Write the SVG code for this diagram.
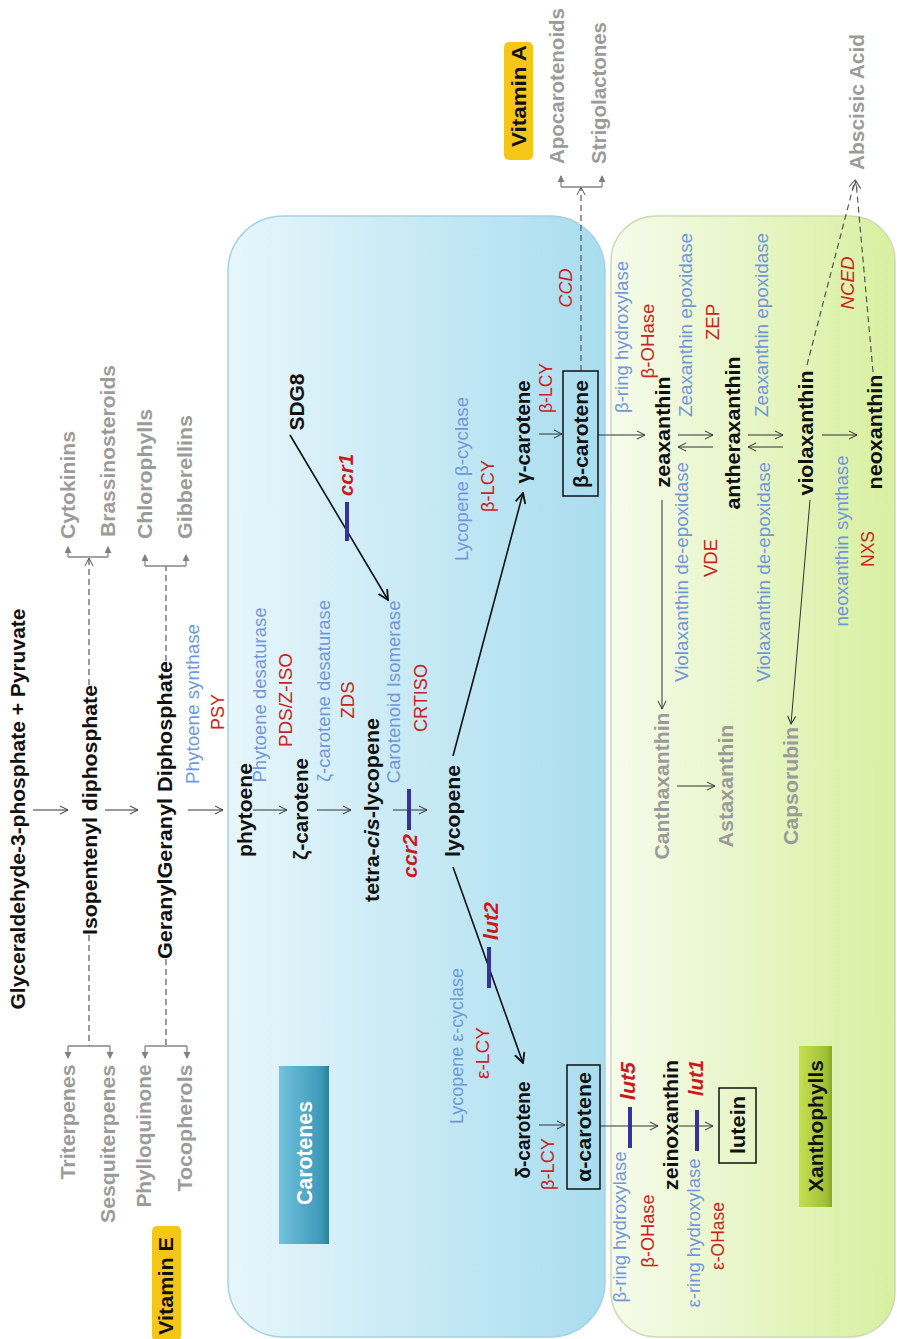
<svg xmlns="http://www.w3.org/2000/svg" width="897" height="1339" viewBox="0 0 897 1339">
<defs>
<linearGradient id="gBlue" x1="0" y1="0" x2="1" y2="0"><stop offset="0" stop-color="#e7f6fb"/><stop offset="1" stop-color="#a9ddef"/></linearGradient>
<linearGradient id="gGreen" x1="0" y1="0" x2="1" y2="0"><stop offset="0" stop-color="#f6fbeb"/><stop offset="1" stop-color="#d8f0a0"/></linearGradient>
<linearGradient id="gCar" x1="0" y1="0" x2="1" y2="0"><stop offset="0" stop-color="#72c3df"/><stop offset="0.85" stop-color="#3d98b8"/><stop offset="1" stop-color="#2d7f9c"/></linearGradient>
<linearGradient id="gXan" x1="0" y1="0" x2="1" y2="0"><stop offset="0" stop-color="#c6df52"/><stop offset="0.85" stop-color="#9fbf32"/><stop offset="1" stop-color="#86a626"/></linearGradient>
<marker id="ah" markerWidth="10" markerHeight="10" refX="9" refY="5" orient="auto" markerUnits="userSpaceOnUse"><path d="M1,1 L9,5 L1,9" fill="none" stroke="#333" stroke-width="1"/></marker>
<marker id="ahb" markerWidth="12" markerHeight="12" refX="11" refY="6" orient="auto" markerUnits="userSpaceOnUse"><path d="M1,1 L11,6 L1,11" fill="none" stroke="#111" stroke-width="1.8"/></marker>
<marker id="ahd" markerWidth="10" markerHeight="10" refX="9" refY="5" orient="auto" markerUnits="userSpaceOnUse"><path d="M1,1 L9,5 L1,9" fill="none" stroke="#555" stroke-width="1"/></marker>
<marker id="fa" markerWidth="8" markerHeight="8" refX="6" refY="3.5" orient="auto" markerUnits="userSpaceOnUse"><path d="M0,0 L7,3.5 L0,7 z" fill="#808080"/></marker>
</defs>
<style>
text{font-family:"Liberation Sans",Arial,sans-serif;text-anchor:middle}
.n{font-weight:bold;font-size:21px;fill:#111}
.g{font-weight:bold;font-size:21px;fill:#9b9b9b}
.e{font-size:18px;fill:#6f98dc}
.r{font-size:19px;fill:#cc2222}
.ri{font-size:19px;fill:#cc2222;font-style:italic}
.m{font-size:20px;fill:#cc1a1a;font-weight:bold;font-style:italic}
.ln{stroke:#333;stroke-width:1;fill:none}
.lb{stroke:#111;stroke-width:1.6;fill:none}
.dash{stroke:#555;stroke-width:1.2;stroke-dasharray:6 4;fill:none}
.fork{stroke:#858585;stroke-width:1.3;fill:none}
.bar{stroke:#333399;stroke-width:4}
.box{fill:none;stroke:#111;stroke-width:1.5}
</style>

<g id="panels">
<rect id="carotene-panel" x="228" y="216" width="377" height="1121" rx="55" fill="url(#gBlue)" stroke="#a3d2e3" stroke-width="1.5"/>
<rect id="xanthophyll-panel" x="611" y="216" width="284" height="1121" rx="45" fill="url(#gGreen)" stroke="#cfdab4" stroke-width="1.5"/>
</g>

<g id="connectors">
<line class="ln" x1="33" y1="810" x2="68" y2="810" marker-end="url(#ah)"/>
<line class="ln" x1="105" y1="810" x2="138" y2="810" marker-end="url(#ah)"/>
<line class="ln" x1="188" y1="810" x2="223" y2="810" marker-end="url(#ah)"/>
<line class="ln" x1="253" y1="810" x2="287" y2="810" marker-end="url(#ah)"/>
<line class="ln" x1="317" y1="810" x2="351" y2="810" marker-end="url(#ah)"/>
<line class="ln" x1="393" y1="810" x2="427" y2="810" marker-end="url(#ah)"/>
<line class="lb" x1="453" y1="756" x2="523" y2="493" marker-end="url(#ahb)"/>
<line class="lb" x1="453" y1="867" x2="523" y2="1063" marker-end="url(#ahb)"/>
<line class="lb" x1="290" y1="435" x2="388" y2="600" stroke-width="2" marker-end="url(#ahb)"/>
<line class="ln" x1="539" y1="434" x2="562" y2="434" marker-end="url(#ah)"/>
<line class="ln" x1="598" y1="435" x2="645" y2="435" marker-end="url(#ah)"/>
<line class="ln" x1="678" y1="435" x2="713" y2="435" marker-end="url(#ah)"/>
<line class="ln" x1="713" y1="447" x2="678" y2="447" marker-end="url(#ah)"/>
<line class="ln" x1="748" y1="435" x2="783" y2="435" marker-end="url(#ah)"/>
<line class="ln" x1="783" y1="447" x2="748" y2="447" marker-end="url(#ah)"/>
<line class="ln" x1="822" y1="435" x2="857" y2="435" marker-end="url(#ah)"/>
<line class="ln" x1="662" y1="500" x2="662" y2="709" marker-end="url(#ah)"/>
<line class="ln" x1="810" y1="500" x2="791" y2="724" marker-end="url(#ah)"/>
<line class="ln" x1="677" y1="786" x2="715" y2="786" marker-end="url(#ah)"/>
<line class="ln" x1="539" y1="1125" x2="565" y2="1125" marker-end="url(#ah)"/>
<line class="ln" x1="600" y1="1126" x2="658" y2="1126" marker-end="url(#ah)"/>
<line class="ln" x1="679" y1="1126" x2="713" y2="1126" marker-end="url(#ah)"/>
<line class="dash" x1="89" y1="685" x2="89" y2="558" marker-end="url(#ahd)"/>
<line class="dash" x1="89" y1="935" x2="89" y2="1046"/>
<line class="dash" x1="166" y1="661" x2="166" y2="566"/>
<line class="dash" x1="166" y1="959" x2="166" y2="1046"/>
<line class="dash" x1="581" y1="371" x2="581" y2="187" marker-end="url(#ahd)"/>
<line class="dash" x1="807" y1="365" x2="855" y2="180" marker-end="url(#ahd)"/>
<line class="dash" x1="873" y1="372" x2="856" y2="181" marker-end="url(#ahd)"/>
<path class="fork" d="M68,557 H108"/><line class="fork" x1="68" y1="557" x2="68" y2="547" marker-end="url(#fa)"/><line class="fork" x1="108" y1="557" x2="108" y2="547" marker-end="url(#fa)"/>
<path class="fork" d="M145,566 H186"/><line class="fork" x1="145" y1="566" x2="145" y2="555" marker-end="url(#fa)"/><line class="fork" x1="186" y1="566" x2="186" y2="555" marker-end="url(#fa)"/>
<path class="fork" d="M68,1046 H110"/><line class="fork" x1="68" y1="1046" x2="68" y2="1058" marker-end="url(#fa)"/><line class="fork" x1="110" y1="1046" x2="110" y2="1058" marker-end="url(#fa)"/>
<path class="fork" d="M145,1046 H187"/><line class="fork" x1="145" y1="1046" x2="145" y2="1058" marker-end="url(#fa)"/><line class="fork" x1="187" y1="1046" x2="187" y2="1058" marker-end="url(#fa)"/>
<path class="fork" d="M561,187 H602"/><line class="fork" x1="561" y1="187" x2="561" y2="176" marker-end="url(#fa)"/><line class="fork" x1="602" y1="187" x2="602" y2="176" marker-end="url(#fa)"/>
<line class="bar" x1="347" y1="502" x2="347" y2="541"/>
<line class="bar" x1="409" y1="789" x2="409" y2="830"/>
<line class="bar" x1="489" y1="947" x2="489" y2="988"/>
<line class="bar" x1="630" y1="1107" x2="630" y2="1148"/>
<line class="bar" x1="697" y1="1110" x2="697" y2="1151"/>
</g>

<g id="precursors">
<text class="n" x="25" y="809" transform="rotate(-90 25 809)" textLength="401" lengthAdjust="spacingAndGlyphs">Glyceraldehyde-3-phosphate + Pyruvate</text>
<text class="n" x="97" y="810" transform="rotate(-90 97 810)" textLength="250" lengthAdjust="spacingAndGlyphs">Isopentenyl diphosphate</text>
<text class="n" x="172" y="810" transform="rotate(-90 172 810)" textLength="298" lengthAdjust="spacingAndGlyphs">GeranylGeranyl Diphosphate</text>
<text class="e" x="199" y="704" transform="rotate(-90 199 704)" textLength="160" lengthAdjust="spacingAndGlyphs">Phytoene synthase</text>
<text class="r" x="224" y="712" transform="rotate(-90 224 712)" textLength="36" lengthAdjust="spacingAndGlyphs">PSY</text>
</g>

<g id="products">
<text class="g" x="75" y="485" transform="rotate(-90 75 485)" textLength="108" lengthAdjust="spacingAndGlyphs">Cytokinins</text>
<text class="g" x="115" y="451" transform="rotate(-90 115 451)" textLength="172" lengthAdjust="spacingAndGlyphs">Brassinosteroids</text>
<text class="g" x="152" y="474" transform="rotate(-90 152 474)" textLength="130" lengthAdjust="spacingAndGlyphs">Chlorophylls</text>
<text class="g" x="192" y="477" transform="rotate(-90 192 477)" textLength="124" lengthAdjust="spacingAndGlyphs">Gibberellins</text>
<text class="g" x="75" y="1122" transform="rotate(-90 75 1122)" textLength="115" lengthAdjust="spacingAndGlyphs">Triterpenes</text>
<text class="g" x="115" y="1144" transform="rotate(-90 115 1144)" textLength="158" lengthAdjust="spacingAndGlyphs">Sesquiterpenes</text>
<text class="g" x="151" y="1136" transform="rotate(-90 151 1136)" textLength="143" lengthAdjust="spacingAndGlyphs">Phylloquinone</text>
<text class="g" x="192" y="1128" transform="rotate(-90 192 1128)" textLength="127" lengthAdjust="spacingAndGlyphs">Tocopherols</text>
<text class="g" x="564" y="86" transform="rotate(-90 564 86)" textLength="156" lengthAdjust="spacingAndGlyphs">Apocarotenoids</text>
<text class="g" x="606" y="93" transform="rotate(-90 606 93)" textLength="142" lengthAdjust="spacingAndGlyphs">Strigolactones</text>
<text class="g" x="864" y="102" transform="rotate(-90 864 102)" textLength="136" lengthAdjust="spacingAndGlyphs">Abscisic Acid</text>
<text class="g" x="669" y="786" transform="rotate(-90 669 786)" textLength="147" lengthAdjust="spacingAndGlyphs">Canthaxanthin</text>
<text class="g" x="733" y="786" transform="rotate(-90 733 786)" textLength="123" lengthAdjust="spacingAndGlyphs">Astaxanthin</text>
<text class="g" x="798" y="786" transform="rotate(-90 798 786)" textLength="118" lengthAdjust="spacingAndGlyphs">Capsorubin</text>
</g>

<g id="vitamin-e">
<rect x="152" y="1226" width="29" height="115" rx="5" fill="#f5c518"/>
<text class="n" x="173" y="1286" transform="rotate(-90 173 1286)" textLength="98" lengthAdjust="spacingAndGlyphs">Vitamin E</text>
</g>
<g id="vitamin-a">
<rect x="504" y="42" width="29" height="118" rx="5" fill="#f5c518"/>
<text class="n" x="526" y="96" transform="rotate(-90 526 96)" textLength="102" lengthAdjust="spacingAndGlyphs">Vitamin A</text>
</g>

<g id="carotenes-label">
<rect x="279" y="1066" width="50" height="178" fill="url(#gCar)"/>
<text x="312" y="1153" transform="rotate(-90 312 1153)" textLength="104" lengthAdjust="spacingAndGlyphs" style="font-weight:bold;font-size:22px;fill:#fff">Carotenes</text>
</g>
<g id="xanthophylls-label">
<rect x="799" y="1046" width="33" height="161" fill="url(#gXan)"/>
<text class="n" x="823" y="1126" transform="rotate(-90 823 1126)" textLength="132" lengthAdjust="spacingAndGlyphs" style="font-size:20px">Xanthophylls</text>
</g>

<g id="phytoene">
<text class="n" x="252" y="810" transform="rotate(-90 252 810)" textLength="94" lengthAdjust="spacingAndGlyphs">phytoene</text>
<text class="e" x="266" y="695" transform="rotate(-90 266 695)" textLength="175" lengthAdjust="spacingAndGlyphs">Phytoene desaturase</text>
<text class="r" x="292" y="700" transform="rotate(-90 292 700)" textLength="94" lengthAdjust="spacingAndGlyphs">PDS/Z-ISO</text>
</g>
<g id="zeta-carotene">
<text class="n" x="308" y="809" transform="rotate(-90 308 809)" textLength="102" lengthAdjust="spacingAndGlyphs">ζ-carotene</text>
<text class="e" x="330" y="691" transform="rotate(-90 330 691)" textLength="182" lengthAdjust="spacingAndGlyphs">ζ-carotene desaturase</text>
<text class="r" x="354" y="700" transform="rotate(-90 354 700)" textLength="37" lengthAdjust="spacingAndGlyphs">ZDS</text>
</g>
<g id="tetra-cis-lycopene">
<text class="n" x="379" y="810" transform="rotate(-90 379 810)" textLength="184" lengthAdjust="spacingAndGlyphs">tetra-<tspan font-style="italic">cis</tspan>-lycopene</text>
<text class="e" x="400" y="692" transform="rotate(-90 400 692)" textLength="183" lengthAdjust="spacingAndGlyphs">Carotenoid Isomerase</text>
<text class="r" x="427" y="698" transform="rotate(-90 427 698)" textLength="68" lengthAdjust="spacingAndGlyphs">CRTISO</text>
<text class="m" x="417" y="856" transform="rotate(-90 417 856)" textLength="44" lengthAdjust="spacingAndGlyphs">ccr2</text>
</g>
<g id="lycopene">
<text class="n" x="460" y="811" transform="rotate(-90 460 811)" textLength="92" lengthAdjust="spacingAndGlyphs">lycopene</text>
</g>
<g id="sdg8">
<text class="n" x="304" y="402" transform="rotate(-90 304 402)" textLength="57" lengthAdjust="spacingAndGlyphs">SDG8</text>
<text class="m" x="353" y="475" transform="rotate(-90 353 475)" textLength="42" lengthAdjust="spacingAndGlyphs">ccr1</text>
</g>
<g id="gamma-carotene">
<text class="e" x="468" y="479" transform="rotate(-90 468 479)" textLength="164" lengthAdjust="spacingAndGlyphs">Lycopene β-cyclase</text>
<text class="r" x="494" y="486" transform="rotate(-90 494 486)" textLength="52" lengthAdjust="spacingAndGlyphs">β-LCY</text>
<text class="n" x="530" y="432" transform="rotate(-90 530 432)" textLength="103" lengthAdjust="spacingAndGlyphs">γ-carotene</text>
<text class="r" x="552" y="388" transform="rotate(-90 552 388)" textLength="50" lengthAdjust="spacingAndGlyphs">β-LCY</text>
</g>
<g id="beta-carotene">
<rect class="box" x="563" y="371" width="35" height="125"/>
<text class="n" x="588" y="434" transform="rotate(-90 588 434)" textLength="108" lengthAdjust="spacingAndGlyphs">β-carotene</text>
<text class="ri" x="572" y="288" transform="rotate(-90 572 288)" textLength="39" lengthAdjust="spacingAndGlyphs">CCD</text>
</g>
<g id="delta-carotene">
<text class="e" x="463" y="1046" transform="rotate(-90 463 1046)" textLength="156" lengthAdjust="spacingAndGlyphs">Lycopene ε-cyclase</text>
<text class="r" x="489" y="1053" transform="rotate(-90 489 1053)" textLength="52" lengthAdjust="spacingAndGlyphs">ε-LCY</text>
<text class="m" x="498" y="921" transform="rotate(-90 498 921)" textLength="38" lengthAdjust="spacingAndGlyphs">lut2</text>
<text class="n" x="530" y="1130" transform="rotate(-90 530 1130)" textLength="97" lengthAdjust="spacingAndGlyphs">δ-carotene</text>
<text class="r" x="554" y="1164" transform="rotate(-90 554 1164)" textLength="52" lengthAdjust="spacingAndGlyphs">β-LCY</text>
</g>
<g id="alpha-carotene">
<rect class="box" x="567" y="1065" width="33" height="124"/>
<text class="n" x="591" y="1127" transform="rotate(-90 591 1127)" textLength="110" lengthAdjust="spacingAndGlyphs">α-carotene</text>
</g>

<g id="zeaxanthin">
<text class="e" x="628" y="337" transform="rotate(-90 628 337)" textLength="152" lengthAdjust="spacingAndGlyphs">β-ring hydroxylase</text>
<text class="r" x="654" y="341" transform="rotate(-90 654 341)" textLength="75" lengthAdjust="spacingAndGlyphs">β-OHase</text>
<text class="n" x="670" y="432" transform="rotate(-90 670 432)" textLength="111" lengthAdjust="spacingAndGlyphs">zeaxanthin</text>
<text class="e" x="692" y="325" transform="rotate(-90 692 325)" textLength="184" lengthAdjust="spacingAndGlyphs">Zeaxanthin epoxidase</text>
<text class="r" x="719" y="322" transform="rotate(-90 719 322)" textLength="36" lengthAdjust="spacingAndGlyphs">ZEP</text>
<text class="e" x="688" y="572" transform="rotate(-90 688 572)" textLength="220" lengthAdjust="spacingAndGlyphs">Violaxanthin de-epoxidase</text>
<text class="r" x="717" y="558" transform="rotate(-90 717 558)" textLength="38" lengthAdjust="spacingAndGlyphs">VDE</text>
</g>
<g id="antheraxanthin">
<text class="n" x="740" y="433" transform="rotate(-90 740 433)" textLength="153" lengthAdjust="spacingAndGlyphs">antheraxanthin</text>
<text class="e" x="768" y="325" transform="rotate(-90 768 325)" textLength="184" lengthAdjust="spacingAndGlyphs">Zeaxanthin epoxidase</text>
<text class="e" x="770" y="572" transform="rotate(-90 770 572)" textLength="220" lengthAdjust="spacingAndGlyphs">Violaxanthin de-epoxidase</text>
</g>
<g id="violaxanthin">
<text class="n" x="813" y="433" transform="rotate(-90 813 433)" textLength="125" lengthAdjust="spacingAndGlyphs">violaxanthin</text>
<text class="ri" x="854" y="283" transform="rotate(-90 854 283)" textLength="53" lengthAdjust="spacingAndGlyphs">NCED</text>
</g>
<g id="neoxanthin">
<text class="e" x="848" y="541" transform="rotate(-90 848 541)" textLength="171" lengthAdjust="spacingAndGlyphs">neoxanthin synthase</text>
<text class="r" x="874" y="549" transform="rotate(-90 874 549)" textLength="36" lengthAdjust="spacingAndGlyphs">NXS</text>
<text class="n" x="882" y="432" transform="rotate(-90 882 432)" textLength="115" lengthAdjust="spacingAndGlyphs">neoxanthin</text>
</g>
<g id="zeinoxanthin">
<text class="e" x="626" y="1227" transform="rotate(-90 626 1227)" textLength="151" lengthAdjust="spacingAndGlyphs">β-ring hydroxylase</text>
<text class="r" x="654" y="1231" transform="rotate(-90 654 1231)" textLength="73" lengthAdjust="spacingAndGlyphs">β-OHase</text>
<text class="m" x="635" y="1081" transform="rotate(-90 635 1081)" textLength="38" lengthAdjust="spacingAndGlyphs">lut5</text>
<text class="n" x="678" y="1125" transform="rotate(-90 678 1125)" textLength="130" lengthAdjust="spacingAndGlyphs">zeinoxanthin</text>
<text class="m" x="703" y="1078" transform="rotate(-90 703 1078)" textLength="36" lengthAdjust="spacingAndGlyphs">lut1</text>
<text class="e" x="700" y="1233" transform="rotate(-90 700 1233)" textLength="149" lengthAdjust="spacingAndGlyphs">ε-ring hydroxylase</text>
<text class="r" x="724" y="1236" transform="rotate(-90 724 1236)" textLength="68" lengthAdjust="spacingAndGlyphs">ε-OHase</text>
</g>
<g id="lutein">
<rect class="box" x="719" y="1088" width="37" height="75"/>
<text class="n" x="745" y="1125" transform="rotate(-90 745 1125)" textLength="58" lengthAdjust="spacingAndGlyphs">lutein</text>
</g>
</svg>
